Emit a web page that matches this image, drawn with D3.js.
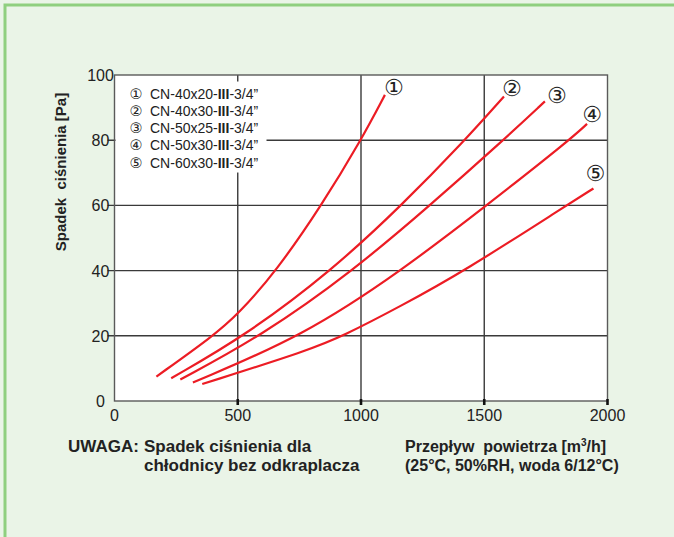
<!DOCTYPE html>
<html><head><meta charset="utf-8">
<script src="https://cdn.jsdelivr.net/npm/d3@7"></script>
<style>
html,body{margin:0;padding:0;background:#eaf4e7;}
svg{display:block;}
</style></head>
<body>
<svg id="chart" width="674" height="537"></svg>
<script>
// ---- data ----
const xTicks = [0, 500, 1000, 1500, 2000];
const yTicks = [0, 20, 40, 60, 80, 100];
const seriesMarks = ["①", "②", "③", "④", "⑤"];
const seriesModels = ["CN-40x20", "CN-40x30", "CN-50x25", "CN-50x30", "CN-60x30"];
const seriesSuffix = "3/4”";
const curve1 = [[170,7.5],[401,20],[500,26.5],[658,40],[840,60],[1000,80],[1097,93.9]];
const curve2 = [[230,7.0],[530,20],[881,40],[1165,60],[1422,80],[1580,93.4]];
const curve3 = [[267,6.6],[597,20],[969,40],[1280,60],[1577,80],[1746,91.9]];
const curve4 = [[318,5.7],[767,20],[1165,40],[1510,60],[1845,80],[1917,85]];
const curve5 = [[356,5.2],[793,15.7],[928,20],[1159,29],[1422,40],[1834,60],[1943,65.2]];
const curves = [curve1, curve2, curve3, curve4, curve5];
const yTitle = "Spadek  ciśnienia [Pa]";
const noteHead = "UWAGA:";
const noteLines = ["Spadek ciśnienia dla", "chłodnicy bez odkraplacza"];
const flowLines = ["Przepływ  powietrza [m", "3", "/h]"];
const condLine = "(25°C, 50%RH, woda 6/12°C)";

// ---- layout ----
const svg = d3.select("#chart");
const L = 114.5, T = 75, R = 607.5, B = 401;
const x = d3.scaleLinear().domain([0, 2000]).range([L, R]);
const y = d3.scaleLinear().domain([0, 100]).range([B, T]);
const labelOffsets = [[9,-8],[8,-8],[12,-6],[5,-10],[2,-15]];
const red = "#ec1c24";

// frame
svg.append("rect").attr("x", 5).attr("y", 5).attr("width", 720).attr("height", 600)
  .attr("fill", "#eaf4e7").attr("stroke", "#8fcf7f").attr("stroke-width", 3);

// plot background
svg.append("rect").attr("x", L).attr("y", T).attr("width", R - L).attr("height", B - T).attr("fill", "#fff");

const g = svg.append("g");
// grid
g.selectAll(".vg").data(xTicks.slice(1, -1)).join("line")
  .attr("x1", d => x(d)).attr("x2", d => x(d)).attr("y1", T).attr("y2", B)
  .attr("stroke", "#3a3a3a").attr("stroke-width", 1.4);
g.selectAll(".hg").data(yTicks.slice(1, -1)).join("line")
  .attr("x1", L - 7).attr("x2", R).attr("y1", d => y(d)).attr("y2", d => y(d))
  .attr("stroke", "#3a3a3a").attr("stroke-width", 1.4);

// legend white box
g.append("rect").attr("x", L + 1).attr("y", y(98)).attr("width", 151).attr("height", 91).attr("fill", "#fff");

// frame of plot
g.append("rect").attr("x", L).attr("y", T).attr("width", R - L).attr("height", B - T)
  .attr("fill", "none").attr("stroke", "#5a5a5a").attr("stroke-width", 1.4);

// x ticks
g.selectAll(".xt").data(xTicks.slice(1)).join("line")
  .attr("x1", d => x(d)).attr("x2", d => x(d)).attr("y1", B - 2).attr("y2", B + 4)
  .attr("stroke", "#111").attr("stroke-width", 2.6);

// tick labels
const tickFont = "'Liberation Sans', Arial, sans-serif";
g.selectAll(".xl").data(xTicks).join("text")
  .attr("x", d => x(d)).attr("y", B + 20).attr("text-anchor", "middle")
  .attr("font-family", tickFont).attr("font-size", 16).attr("fill", "#222").text(d => d);
g.selectAll(".yl").data(yTicks).join("text")
  .attr("x", L - 14).attr("y", d => y(d) + 6).attr("text-anchor", "middle")
  .attr("font-family", tickFont).attr("font-size", 16).attr("fill", "#222").text(d => d);

// curves
const line = d3.line().x(d => x(d[0])).y(d => y(d[1])).curve(d3.curveBasis);
g.selectAll(".curve").data(curves).join("path")
  .attr("d", line).attr("fill", "none").attr("stroke", red).attr("stroke-width", 2.2);

// curve labels
const markFont = "'DejaVu Sans', 'Noto Sans CJK JP', sans-serif";
g.selectAll(".cl").data(curves).join("text")
  .attr("x", (d, i) => x(d[d.length - 1][0]) + labelOffsets[i][0])
  .attr("y", (d, i) => y(d[d.length - 1][1]) + labelOffsets[i][1])
  .attr("dy", "0.36em")
  .attr("text-anchor", "middle").attr("font-family", markFont).attr("font-size", 22).attr("fill", "#222")
  .text((d, i) => seriesMarks[i]);

// legend
const lg = g.append("g");
seriesModels.forEach((m, i) => {
  const base = T + 23.5 + i * 17.25;
  const t = lg.append("text").attr("x", L + 15).attr("y", base)
    .attr("font-family", tickFont).attr("font-size", 14).attr("fill", "#222");
  t.append("tspan").attr("font-family", markFont).attr("font-size", 14.5).text(seriesMarks[i]);
  t.append("tspan").attr("x", L + 35.5).text(m + "-");
  t.append("tspan").attr("font-weight", "bold").text("III");
  t.append("tspan").text("-" + seriesSuffix);
});

// y title
svg.append("text").attr("transform", `translate(66,172) rotate(-90)`)
  .attr("text-anchor", "middle").attr("font-family", tickFont).attr("font-weight", "bold")
  .attr("font-size", 15).attr("fill", "#222").style("white-space", "pre").text(yTitle);

// notes
const nf = (sel, s) => sel.attr("font-family", tickFont).attr("font-weight", "bold").attr("font-size", s).attr("fill", "#222");
nf(svg.append("text").attr("x", 68).attr("y", 452).text(noteHead), 17);
nf(svg.append("text").attr("x", 144).attr("y", 452).text(noteLines[0]), 17);
nf(svg.append("text").attr("x", 144).attr("y", 471).text(noteLines[1]), 17);

const r1 = nf(svg.append("text").attr("x", 405).attr("y", 452), 16).style("white-space", "pre");
r1.append("tspan").text(flowLines[0]);
r1.append("tspan").attr("dy", -6).attr("font-size", 10).text(flowLines[1]);
r1.append("tspan").attr("dy", 6).text(flowLines[2]);
nf(svg.append("text").attr("x", 405).attr("y", 471), 16).text(condLine);
</script>
</body></html>
